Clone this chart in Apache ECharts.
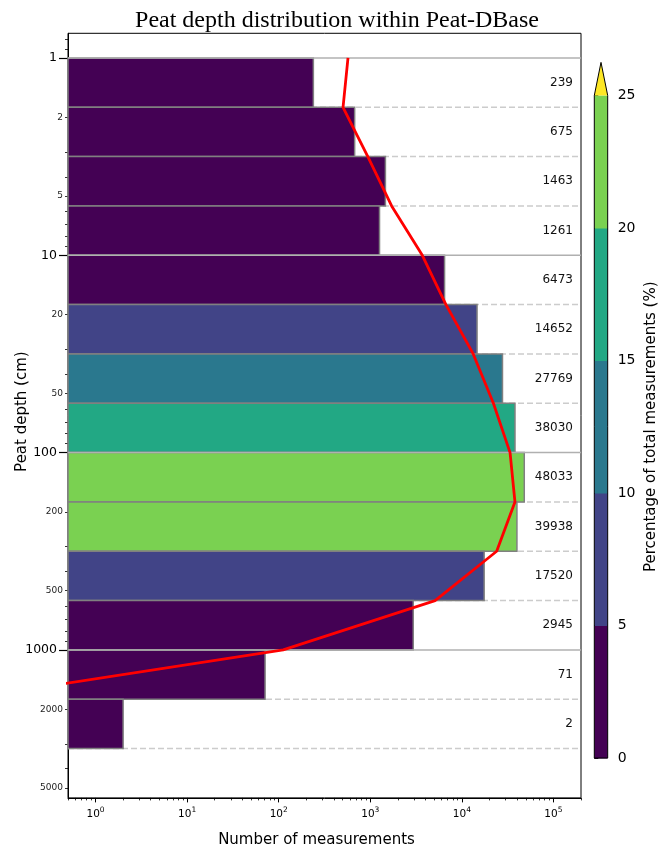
<!DOCTYPE html>
<html>
<head>
<meta charset="utf-8">
<script src="https://cdn.jsdelivr.net/npm/echarts@6/dist/echarts.min.js"></script>
<style>html,body{margin:0;padding:0;background:#fff}#chart{width:670px;height:849px}</style>
</head>
<body>
<div id="chart"></div>
<script>
// ---------- data ----------
const title = 'Peat depth distribution within Peat-DBase';
// depth bin edges (cm), quarter-decade bins
const binEdges = [1, 1.778, 3.162, 5.623, 10, 17.78, 31.62, 56.23, 100, 177.8, 316.2, 562.3, 1000, 1778, 3162];
// number of measurements per bin
const counts = [239, 675, 1463, 1261, 6473, 14652, 27769, 38030, 48033, 39938, 17520, 2945, 71, 2];
// red profile line (value at each bin edge)
const lineDepths = [1, 1.778, 3.162, 5.623, 10, 17.78, 31.62, 56.23, 100, 177.8, 316.2, 562.3, 1000, 1778];
const lineValues = [571, 504, 940, 1710, 3700, 6700, 13300, 22100, 33600, 38000, 24000, 5100, 112, 0.036];
// colour bar
const cbBounds = [0, 5, 10, 15, 20, 25];
const cbColors = ['#440154', '#414487', '#2a788e', '#22a884', '#7ad151'];
const cbOverColor = '#fde725';
const cbTicks = [0, 5, 10, 15, 20, 25];
// axis ticks
const yMajorTicks = [1, 10, 100, 1000];
const yMinorTicks = [0.8, 0.9, 2, 3, 4, 5, 6, 7, 8, 9, 20, 30, 40, 50, 60, 70, 80, 90,
  200, 300, 400, 500, 600, 700, 800, 900, 2000, 3000, 4000, 5000];
const yMinorLabels = [2, 5, 20, 50, 200, 500, 2000, 5000];
const xMajorTicks = [1, 10, 100, 1000, 10000, 100000];
const xMinorTicks = [0.5, 0.6, 0.7, 0.8, 0.9, 2, 3, 4, 5, 6, 7, 8, 9, 20, 30, 40, 50, 60, 70, 80, 90,
  200, 300, 400, 500, 600, 700, 800, 900, 2000, 3000, 4000, 5000, 6000, 7000, 8000, 9000,
  20000, 30000, 40000, 50000, 60000, 70000, 80000, 90000, 200000];

// ---------- derived ----------
const X_MIN = 0.5, X_MAX = 200000;
const Y_MIN = 0.7499, Y_MAX = 5623.4;
const total = counts.reduce((a, b) => a + b, 0);
function colorFor(pct) {
  for (let i = 0; i < cbColors.length; i++) {
    if (pct < cbBounds[i + 1]) return cbColors[i];
  }
  return cbOverColor;
}
const barData = counts.map((c, i) => [c, binEdges[i], binEdges[i + 1], c / total * 100]);
const isDecade = v => Math.abs(Math.log10(v) - Math.round(Math.log10(v))) < 1e-3;
const solidEdges = binEdges.filter(isDecade).map(v => [v]);
const dashedEdges = binEdges.filter(v => !isDecade(v)).map(v => [v]);
const lineData = lineDepths.map((d, i) => [lineValues[i], d]);
const cbData = cbColors.map((c, i) => [cbBounds[i], cbBounds[i + 1], c]);

const FONT = 'DejaVu Sans';
const chart = echarts.init(document.getElementById('chart'), null, {renderer: 'canvas'});

function hLine(dashed, color, z) {
  return function (params, api) {
    const cs = params.coordSys;
    const y = api.coord([X_MIN, api.value(0)])[1];
    return {
      type: 'line', z2: z,
      shape: {x1: cs.x, y1: y, x2: cs.x + cs.width, y2: y},
      style: {stroke: color, lineWidth: 1.5, lineDash: dashed ? [6, 3] : null}
    };
  };
}

const option = {
  animation: false,
  backgroundColor: '#fff',
  title: {
    text: title, left: 332, top: 4, textAlign: 'center',
    textStyle: {fontFamily: 'Liberation Serif', fontSize: 24, fontWeight: 'normal', color: '#000'}
  },
  grid: [
    {left: 68, top: 33.3, width: 513, height: 764.6, show: true, borderColor: '#000', borderWidth: 1,
      backgroundColor: 'transparent', containLabel: false, outerBoundsMode: 'none'},
    {left: 594.3, top: 95.5, width: 13.4, height: 662.5, show: false, containLabel: false, outerBoundsMode: 'none'}
  ],
  xAxis: [
    {
      type: 'log', logBase: 10, gridIndex: 0, min: X_MIN, max: X_MAX, position: 'bottom',
      axisLine: {show: true, lineStyle: {color: '#000', width: 1}},
      axisTick: {show: true, customValues: xMinorTicks, length: 2.5, lineStyle: {color: '#000', width: 0.8}},
      axisLabel: {show: false}, splitLine: {show: false},
      name: 'Number of measurements', nameLocation: 'middle', nameGap: 35,
      nameTextStyle: {fontFamily: FONT, fontSize: 15, color: '#000', padding: [0, 16, 0, 0]}
    },
    {
      type: 'log', logBase: 10, gridIndex: 0, min: X_MIN, max: X_MAX, position: 'bottom', offset: 0,
      axisLine: {show: false},
      axisTick: {show: true, customValues: xMajorTicks, length: 4.5, lineStyle: {color: '#000', width: 1}},
      axisLabel: {
        show: true, customValues: xMajorTicks, margin: 8,
        formatter: v => '{b|10}{s|' + Math.round(Math.log10(v)) + '}',
        rich: {
          b: {fontFamily: FONT, fontSize: 10.5, color: '#000', verticalAlign: 'bottom'},
          s: {fontFamily: FONT, fontSize: 7.5, color: '#000', verticalAlign: 'top', padding: [0, 0, 6, 0]}
        }
      },
      splitLine: {show: false}
    },
    {type: 'value', gridIndex: 1, min: 0, max: 1, show: false}
  ],
  yAxis: [
    {
      type: 'log', logBase: 10, gridIndex: 0, min: Y_MIN, max: Y_MAX, inverse: true, position: 'left',
      axisLine: {show: true, lineStyle: {color: '#000', width: 1}},
      axisTick: {show: true, customValues: yMinorTicks, length: 3, lineStyle: {color: '#000', width: 0.8}},
      axisLabel: {show: true, customValues: yMinorLabels, margin: 5, fontFamily: FONT, fontSize: 9, color: '#222',
        formatter: v => String(Math.round(v))},
      splitLine: {show: false},
      name: 'Peat depth (cm)', nameLocation: 'middle', nameGap: 37, nameRotate: 90,
      nameTextStyle: {fontFamily: FONT, fontSize: 15, color: '#000', padding: [0, 0, 0, 8]}
    },
    {
      type: 'log', logBase: 10, gridIndex: 0, min: Y_MIN, max: Y_MAX, inverse: true, position: 'left', offset: 0,
      axisLine: {show: false},
      axisTick: {show: true, customValues: yMajorTicks, length: 9, lineStyle: {color: '#000', width: 1.2}},
      axisLabel: {show: true, customValues: yMajorTicks, margin: 11, fontFamily: FONT, fontSize: 12.5, color: '#000',
        formatter: v => String(Math.round(v))},
      splitLine: {show: false}
    },
    {
      type: 'value', gridIndex: 1, min: 0, max: 25, interval: 5, position: 'right',
      axisLine: {show: false},
      axisTick: {show: true, customValues: cbTicks, length: 4, lineStyle: {color: '#000', width: 1}},
      axisLabel: {show: true, customValues: cbTicks, margin: 10, fontFamily: FONT, fontSize: 14, color: '#000'},
      splitLine: {show: false},
      name: 'Percentage of total measurements (%)', nameLocation: 'middle', nameGap: 36, nameRotate: 90,
      nameTextStyle: {fontFamily: FONT, fontSize: 15, color: '#000'}
    }
  ],
  series: [
    {
      type: 'custom', name: 'dashed', xAxisIndex: 0, yAxisIndex: 0, z: 1,
      data: dashedEdges, renderItem: hLine(true, '#cccccc', 1), silent: true
    },
    {
      type: 'custom', name: 'bars', xAxisIndex: 0, yAxisIndex: 0, z: 2,
      data: barData,
      renderItem: function (params, api) {
        const cs = params.coordSys;
        const p0 = api.coord([X_MIN, api.value(1)]);
        const p1 = api.coord([api.value(0), api.value(2)]);
        const pct = api.value(3);
        return {
          type: 'group',
          children: [
            {
              type: 'rect',
              shape: {x: p0[0], y: p0[1], width: p1[0] - p0[0], height: p1[1] - p0[1]},
              style: {fill: colorFor(pct), stroke: '#808080', lineWidth: 1.5}
            },
            {
              type: 'text',
              style: {
                x: cs.x + cs.width - 8, y: (p0[1] + p1[1]) / 2,
                text: String(api.value(0)), align: 'right', verticalAlign: 'middle',
                fontFamily: FONT, fontSize: 12, fill: '#111'
              }
            }
          ]
        };
      }
    },
    {
      type: 'custom', name: 'solid', xAxisIndex: 0, yAxisIndex: 0, z: 3,
      data: solidEdges, renderItem: hLine(false, '#b0b0b0', 1), silent: true
    },
    {
      type: 'line', name: 'profile', xAxisIndex: 0, yAxisIndex: 0, z: 10,
      data: lineData, symbol: 'none', clip: true,
      lineStyle: {color: '#ff0000', width: 2.8}
    },
    {
      type: 'custom', name: 'colorbar', xAxisIndex: 2, yAxisIndex: 2, z: 2,
      data: cbData,
      renderItem: function (params, api) {
        const p0 = api.coord([0, api.value(0)]);
        const p1 = api.coord([1, api.value(1)]);
        return {
          type: 'rect',
          shape: {x: p0[0], y: p1[1], width: p1[0] - p0[0], height: p0[1] - p1[1] + 0.5},
          style: {fill: api.value(2)}
        };
      }
    },
    {
      type: 'custom', name: 'colorbarExtend', xAxisIndex: 2, yAxisIndex: 2, z: 3,
      data: [[cbBounds[0], cbBounds[cbBounds.length - 1]]],
      renderItem: function (params, api) {
        const pb = api.coord([0, api.value(0)]);
        const pt = api.coord([1, api.value(1)]);
        const x0 = pb[0], x1 = pt[0], yb = pb[1], yt = pt[1];
        const apex = yt - 0.05 * (yb - yt);
        const mid = (x0 + x1) / 2;
        return {
          type: 'group',
          children: [
            {type: 'polygon', shape: {points: [[x0, yt], [mid, apex], [x1, yt]]}, style: {fill: cbOverColor}},
            {type: 'polygon', shape: {points: [[x0, yb], [x0, yt], [mid, apex], [x1, yt], [x1, yb]]},
              style: {fill: null, stroke: '#000', lineWidth: 1}}
          ]
        };
      }
    }
  ]
};
chart.setOption(option);
</script>
</body>
</html>
